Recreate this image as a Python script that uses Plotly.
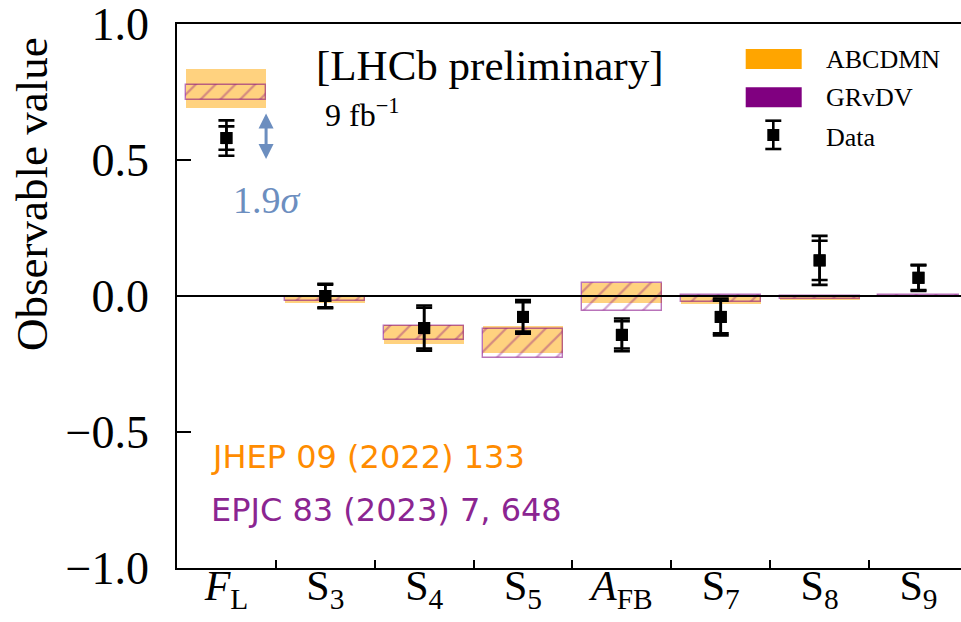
import plotly.graph_objects as go

# ---------------- data ----------------
categories = ["<i>F</i><sub>L</sub>", "S<sub>3</sub>", "S<sub>4</sub>", "S<sub>5</sub>",
              "<i>A</i><sub>FB</sub>", "S<sub>7</sub>", "S<sub>8</sub>", "S<sub>9</sub>"]
data_val = [0.581, 0.000, -0.118, -0.077, -0.143, -0.077, 0.131, 0.067]
stat_err = [0.043, 0.042, 0.075, 0.054, 0.050, 0.060, 0.072, 0.045]
tot_err = [0.065, 0.045, 0.083, 0.062, 0.060, 0.068, 0.090, 0.048]

abcdmn_low = [0.693, -0.025, -0.176, -0.211, -0.025, -0.029, -0.013, -0.003]
abcdmn_high = [0.835, -0.002, -0.108, -0.111, 0.049, 0.005, 0.001, 0.001]
grvdv_low = [0.720, -0.020, -0.161, -0.229, -0.056, -0.021, -0.010, -0.002]
grvdv_high = [0.775, -0.004, -0.112, -0.121, 0.049, 0.005, 0.001, 0.002]

yticks = [-1.0, -0.5, 0.0, 0.5, 1.0]

# ---------------- layout helpers (pixel -> paper) ----------------
W, H = 961, 622
PL, PR, PT, PB = 177, 961, 24, 568


def px(x):
    return (x - PL) / (PR - PL)


def py(y):
    return (PB - y) / (PB - PT)


SERIF = "Liberation Serif"
ORANGE = "#FFA500"
PURPLE = "#800080"
BLUE = "rgb(108,142,191)"

fig = go.Figure()

# ABCDMN band
fig.add_trace(go.Bar(
    x=categories,
    y=[h - l for l, h in zip(abcdmn_low, abcdmn_high)],
    base=abcdmn_low,
    width=0.81,
    marker=dict(color="rgba(255,165,0,0.5)", line=dict(width=0)),
    showlegend=False,
))
# GRvDV hatched band
fig.add_trace(go.Bar(
    x=categories,
    y=[h - l for l, h in zip(grvdv_low, grvdv_high)],
    base=grvdv_low,
    width=0.81,
    marker=dict(color="rgba(0,0,0,0)",
                pattern=dict(shape="/", fgcolor="rgba(128,0,128,0.7)",
                             bgcolor="rgba(0,0,0,0)", size=14, solidity=0.16),
                line=dict(color="rgba(128,0,128,0.55)", width=1.4)),
    showlegend=False,
))
# data: total uncertainty
fig.add_trace(go.Scatter(
    x=categories, y=data_val, mode="markers",
    marker=dict(symbol="square", size=12, color="black"),
    error_y=dict(type="data", array=tot_err, color="black", thickness=2.6, width=8),
    showlegend=False,
))
# data: statistical uncertainty
fig.add_trace(go.Scatter(
    x=categories, y=data_val, mode="markers",
    marker=dict(symbol="square", size=12, color="black"),
    error_y=dict(type="data", array=stat_err, color="black", thickness=2.6, width=8),
    showlegend=False,
))

shapes = []
# zero line
shapes.append(dict(type="line", xref="paper", yref="y", x0=0, x1=1, y0=0, y1=0,
                   line=dict(color="black", width=2), layer="above"))
# legend swatches
shapes.append(dict(type="rect", xref="paper", yref="paper",
                   x0=px(745.7), x1=px(801.7), y0=py(69), y1=py(49),
                   fillcolor=ORANGE, line=dict(width=0)))
shapes.append(dict(type="rect", xref="paper", yref="paper",
                   x0=px(745.7), x1=px(801.7), y0=py(107.3), y1=py(87.3),
                   fillcolor=PURPLE, line=dict(width=0)))
# legend data marker
lx = 773.3
shapes.append(dict(type="line", xref="paper", yref="paper", x0=px(lx), x1=px(lx),
                   y0=py(149), y1=py(120.7), line=dict(color="black", width=2.6)))
for cy in (120.7, 149):
    shapes.append(dict(type="line", xref="paper", yref="paper", x0=px(lx - 8), x1=px(lx + 8),
                       y0=py(cy), y1=py(cy), line=dict(color="black", width=2.6)))
shapes.append(dict(type="rect", xref="paper", yref="paper",
                   x0=px(lx - 6), x1=px(lx + 6), y0=py(141), y1=py(129),
                   fillcolor="black", line=dict(width=0)))

annotations = []
# y axis title
annotations.append(dict(text="Observable value", xref="paper", yref="paper",
                        x=px(32), y=py(194), xanchor="center", yanchor="middle",
                        textangle=-90, showarrow=False,
                        font=dict(family=SERIF, size=45, color="black")))
# LHCb label
annotations.append(dict(text="[LHCb preliminary]", xref="paper", yref="paper",
                        x=px(314), y=py(66), xanchor="left", yanchor="middle",
                        showarrow=False, font=dict(family=SERIF, size=43, color="black")))
annotations.append(dict(text="9 fb<sup>\u22121</sup>", xref="paper", yref="paper",
                        x=px(323), y=py(113), xanchor="left", yanchor="middle",
                        showarrow=False, font=dict(family=SERIF, size=32, color="black")))
# legend texts
for txt, yy in (("ABCDMN", 59.3), ("GRvDV", 97.7), ("Data", 137.3)):
    annotations.append(dict(text=txt, xref="paper", yref="paper",
                            x=px(824), y=py(yy), xanchor="left", yanchor="middle",
                            showarrow=False, font=dict(family=SERIF, size=26, color="black")))
# references
annotations.append(dict(text="JHEP 09 (2022) 133", xref="paper", yref="paper",
                        x=px(209), y=py(457), xanchor="left", yanchor="middle",
                        showarrow=False, font=dict(family="DejaVu Sans", size=32, color="#FF8C00")))
annotations.append(dict(text="EPJC 83 (2023) 7, 648", xref="paper", yref="paper",
                        x=px(209), y=py(510), xanchor="left", yanchor="middle",
                        showarrow=False, font=dict(family="DejaVu Sans", size=32, color="#8B2591")))
# sigma arrow
annotations.append(dict(text="", x=0.401, y=0.671, ax=0.401, ay=0.498,
                        xref="x", yref="y", axref="x", ayref="y",
                        showarrow=True, arrowside="end+start",
                        arrowhead=2, startarrowhead=2, arrowsize=1, startarrowsize=1,
                        arrowwidth=3, arrowcolor=BLUE, standoff=0, startstandoff=0))
annotations.append(dict(text="1.9<i>\u03c3</i>", xref="paper", yref="paper",
                        x=px(267), y=py(200), xanchor="center", yanchor="middle",
                        showarrow=False, font=dict(family=SERIF, size=38, color=BLUE)))

fig.update_layout(
    width=W, height=H,
    margin=dict(l=PL, r=W - PR, t=PT, b=H - PB, pad=0, autoexpand=False),
    paper_bgcolor="white", plot_bgcolor="white",
    barmode="overlay", bargap=0,
    showlegend=False,
    shapes=shapes, annotations=annotations,
    xaxis=dict(type="category", range=[-0.5, 7.43], showgrid=False, zeroline=False,
               automargin=False, ticklabeloverflow="allow",
               showline=True, linecolor="black", linewidth=1.6, mirror=True,
               ticks="inside", tickson="boundaries", ticklen=8, tickwidth=1.5, tickcolor="black",
               tickfont=dict(family=SERIF, size=42, color="black"), ticklabelstandoff=-20),
    yaxis=dict(range=[-1.0005, 1.0005], tickvals=yticks, tickformat=".1f", showgrid=False,
               zeroline=False, automargin=False, ticklabeloverflow="allow",
               showline=True, linecolor="black", linewidth=1.6, mirror=False,
               ticks="inside", ticklen=14, tickwidth=1.8, tickcolor="black",
               tickfont=dict(family=SERIF, size=46, color="black"), ticklabelstandoff=17),
)

fig.write_html("out.html")
